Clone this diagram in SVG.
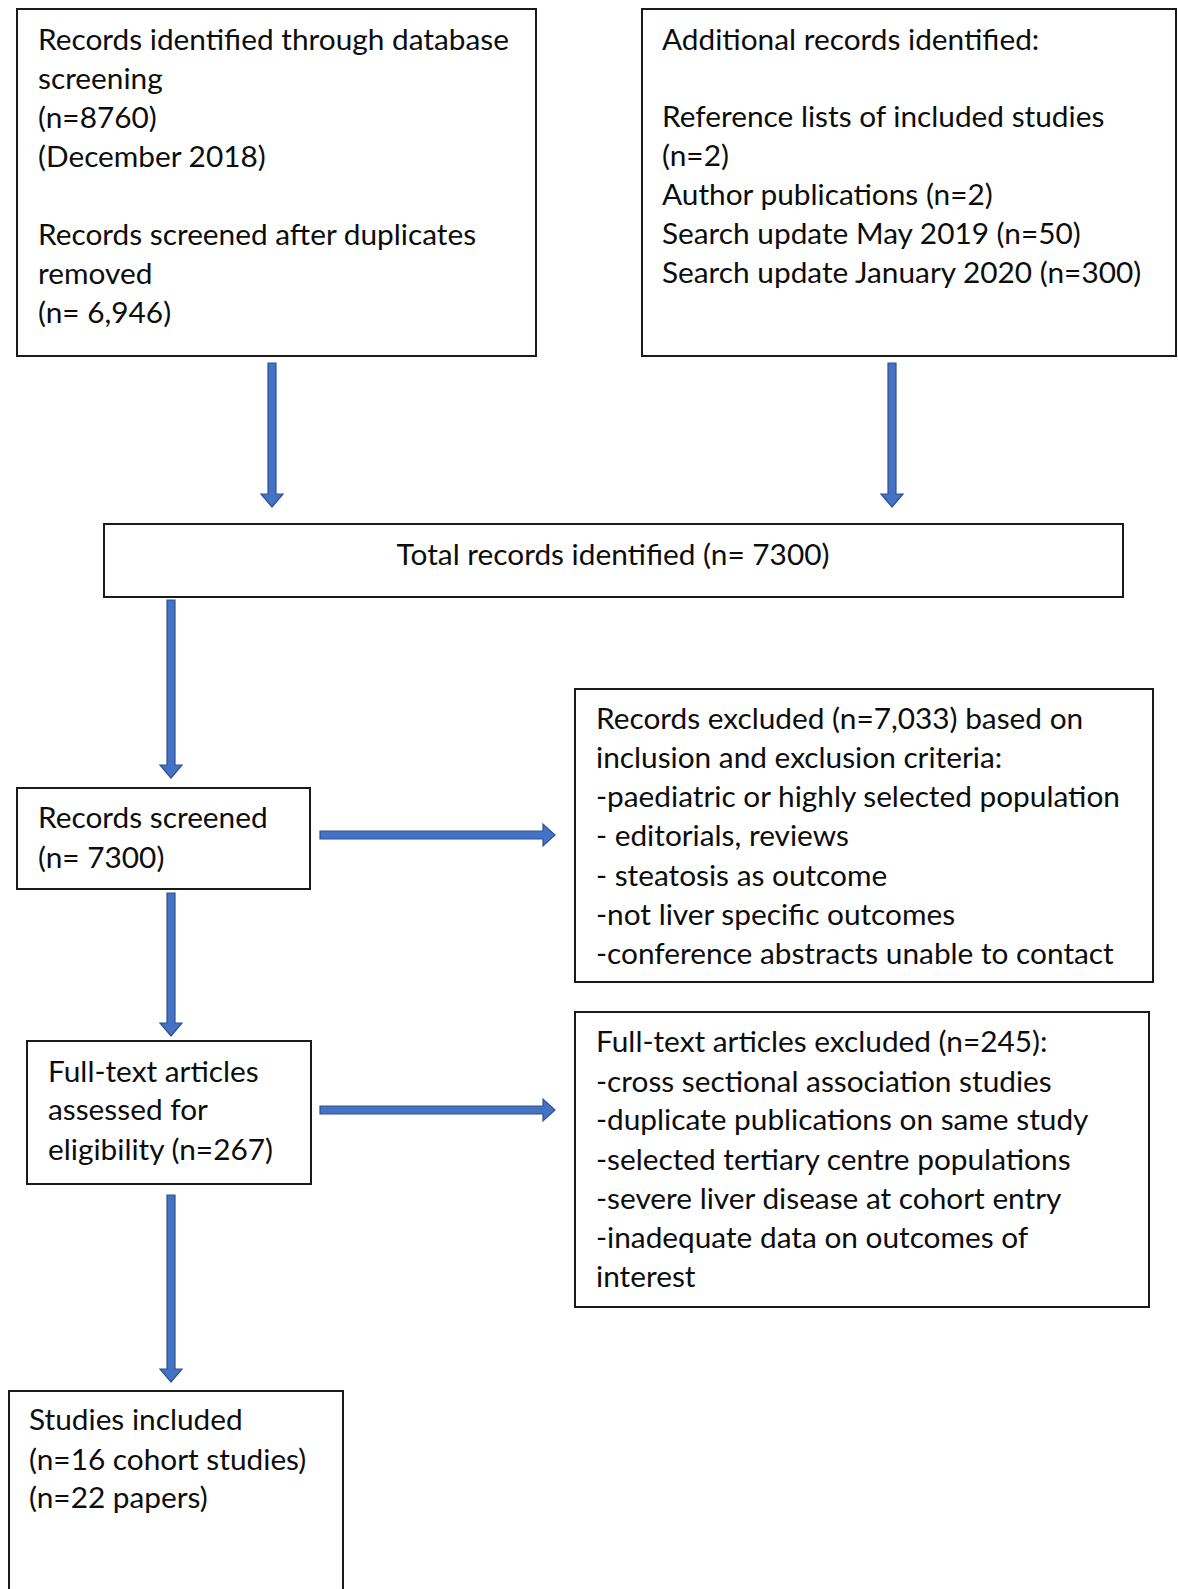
<svg xmlns="http://www.w3.org/2000/svg" width="1178" height="1589" viewBox="0 0 1178 1589">
<style>
.box{fill:#fff;stroke:#1a1a1a;stroke-width:2}
.t{font-family:Lato,"Liberation Sans",sans-serif;font-size:29.8px;fill:#0d0d0d}
.arr{fill:#4472C4;stroke:#2F528F;stroke-width:1.2}
</style>
<rect width="1178" height="1589" fill="#fff"/>
<g id="connectors">
<polygon class="arr" points="268,363 276,363 276,494 283,494 272,507 261,494 268,494"/>
<polygon class="arr" points="888,363 896,363 896,494 903,494 892,507 881,494 888,494"/>
<polygon class="arr" points="167,600 175,600 175,765 182,765 171,778 160,765 167,765"/>
<polygon class="arr" points="167,893 175,893 175,1023 182,1023 171,1036 160,1023 167,1023"/>
<polygon class="arr" points="167,1195 175,1195 175,1369 182,1369 171,1382 160,1369 167,1369"/>
<polygon class="arr" points="320,831 543,831 543,824 555,835 543,846 543,839 320,839"/>
<polygon class="arr" points="320,1106 543,1106 543,1099 555,1110 543,1121 543,1114 320,1114"/>
</g>
<g id="n1">
<rect class="box" x="17" y="9" width="519" height="347"/>
<text class="t" x="38" y="50">Records identified through database</text>
<text class="t" x="38" y="89">screening</text>
<text class="t" x="38" y="128">(n=8760)</text>
<text class="t" x="38" y="167">(December 2018)</text>
<text class="t" x="38" y="245">Records screened after duplicates</text>
<text class="t" x="38" y="284">removed</text>
<text class="t" x="38" y="323">(n= 6,946)</text>
</g>
<g id="n2">
<rect class="box" x="642" y="9" width="534" height="347"/>
<text class="t" x="662" y="50">Additional records identified:</text>
<text class="t" x="662" y="127">Reference lists of included studies</text>
<text class="t" x="662" y="166">(n=2)</text>
<text class="t" x="662" y="205">Author publications (n=2)</text>
<text class="t" x="662" y="244">Search update May 2019 (n=50)</text>
<text class="t" x="662" y="283">Search update January 2020 (n=300)</text>
</g>
<g id="n3">
<rect class="box" x="104" y="524" width="1019" height="73"/>
<text class="t" x="613" y="565" text-anchor="middle">Total records identified (n= 7300)</text>
</g>
<g id="n4">
<rect class="box" x="17" y="788" width="293" height="101"/>
<text class="t" x="38" y="828">Records screened</text>
<text class="t" x="38" y="868">(n= 7300)</text>
</g>
<g id="n5">
<rect class="box" x="575" y="689" width="578" height="293"/>
<text class="t" x="596" y="729">Records excluded (n=7,033) based on</text>
<text class="t" x="596" y="768">inclusion and exclusion criteria:</text>
<text class="t" x="596" y="807">-paediatric or highly selected population</text>
<text class="t" x="596" y="846">- editorials, reviews</text>
<text class="t" x="596" y="886">- steatosis as outcome</text>
<text class="t" x="596" y="925">-not liver specific outcomes</text>
<text class="t" x="596" y="964">-conference abstracts unable to contact</text>
</g>
<g id="n6">
<rect class="box" x="27" y="1041" width="284" height="143"/>
<text class="t" x="48" y="1082">Full-text articles</text>
<text class="t" x="48" y="1120">assessed for</text>
<text class="t" x="48" y="1160">eligibility (n=267)</text>
</g>
<g id="n7">
<rect class="box" x="575" y="1012" width="574" height="295"/>
<text class="t" x="596" y="1052">Full-text articles excluded (n=245):</text>
<text class="t" x="596" y="1092">-cross sectional association studies</text>
<text class="t" x="596" y="1130">-duplicate publications on same study</text>
<text class="t" x="596" y="1170">-selected tertiary centre populations</text>
<text class="t" x="596" y="1209">-severe liver disease at cohort entry</text>
<text class="t" x="596" y="1248">-inadequate data on outcomes of</text>
<text class="t" x="596" y="1287">interest</text>
</g>
<g id="n8">
<rect class="box" x="9" y="1391" width="334" height="220"/>
<text class="t" x="29" y="1430">Studies included</text>
<text class="t" x="29" y="1470">(n=16 cohort studies)</text>
<text class="t" x="29" y="1508">(n=22 papers)</text>
</g>
</svg>
